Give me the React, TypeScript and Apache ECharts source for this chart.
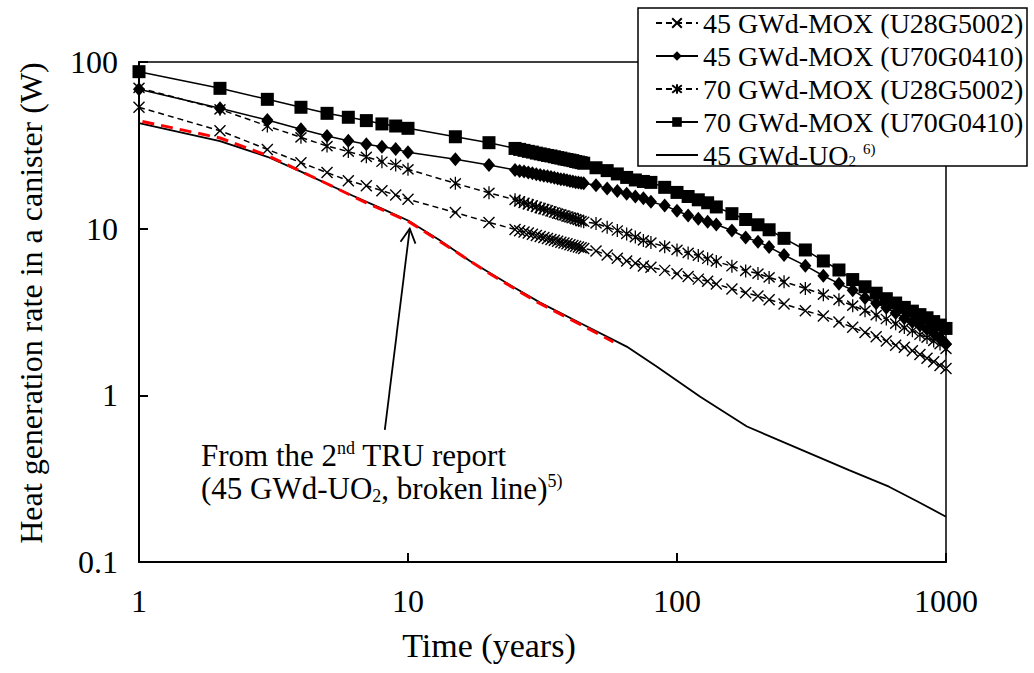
import React, { useEffect, useRef } from 'react';
import * as echarts from 'echarts';

// Time grid (years) shared by the four MOX calculations
const years = [
  1, 2, 3, 4, 5, 6, 7, 8, 9, 10, 15, 20,
  25, 26, 27, 28, 29, 30, 31, 32, 33, 34, 35, 36, 37, 38, 39, 40, 41, 42, 43, 44, 45,
  50, 55, 60, 65, 70, 75,
  80, 90, 100, 110, 120, 130, 140,
  160, 180, 200, 220,
  250,
  300, 350, 400, 450, 500, 550, 600, 650, 700, 750, 800, 850, 900, 950, 1000,
];

// 45 GWd-MOX (U28G5002)  (x markers, dashed)
const mox45U28 = [
  53.5, 38.7, 29.9, 24.9, 21.7, 19.4, 18.1, 16.9, 15.9, 15.0, 12.5, 10.9,
  9.9, 9.72, 9.56, 9.41, 9.26, 9.11, 8.97, 8.85, 8.73, 8.62, 8.51, 8.4, 8.3, 8.2, 8.11, 8.02, 7.93, 7.85, 7.77, 7.68, 7.6,
  7.35, 6.95, 6.65, 6.4, 6.2, 5.97,
  5.86, 5.62, 5.37, 5.17, 4.98, 4.83, 4.66,
  4.35, 4.13, 3.94, 3.75,
  3.53,
  3.22, 2.99, 2.75, 2.56, 2.38, 2.25, 2.12, 2.0, 1.94, 1.85, 1.76, 1.67, 1.59, 1.51, 1.45,
];

// 45 GWd-MOX (U70G0410)  (diamonds, solid)
const mox45U70 = [
  68.6, 52.8, 44.9, 39.5, 36.0, 33.7, 32.1, 31.0, 30.1, 28.7, 26.1, 24.1,
  22.5, 22.2, 22.0, 21.7, 21.5, 21.2, 21.0, 20.8, 20.6, 20.4, 20.2, 20.0, 19.8, 19.7, 19.5, 19.3, 19.2, 19.0, 18.9, 18.8, 18.7,
  18.2, 17.4, 16.8, 16.2, 15.6, 15.2,
  14.5, 13.75, 12.8, 12.0, 11.45, 11.0, 10.6,
  9.75, 8.85, 8.36, 7.75,
  6.95,
  6.0, 5.22, 4.68, 4.27, 3.84, 3.57, 3.35, 3.12, 2.9, 2.75, 2.62, 2.49, 2.36, 2.22, 2.03,
];

// 70 GWd-MOX (U28G5002)  (asterisks, dashed)
const mox70U28 = [
  70, 52, 41.3, 35.3, 31.3, 29.0, 27.0, 25.2, 24.1, 22.7, 18.7, 16.4,
  14.9, 14.6, 14.3, 14.0, 13.8, 13.5, 13.3, 13.1, 12.9, 12.7, 12.5, 12.3, 12.2, 12.0, 11.8, 11.7, 11.6, 11.4, 11.3, 11.1, 11.0,
  10.75, 10.2, 9.75, 9.3, 8.9, 8.5,
  8.25, 7.8, 7.45, 7.15, 6.9, 6.6, 6.36,
  5.95, 5.58, 5.38, 5.1,
  4.8,
  4.38, 4.02, 3.74, 3.45, 3.22, 3.03, 2.87, 2.69, 2.55, 2.44, 2.31, 2.22, 2.12, 2.03, 1.9,
];

// 70 GWd-MOX (U70G0410)  (squares, solid)
const mox70U70 = [
  87.5, 69.5, 59.7, 53.5, 49.2, 46.6, 44.5, 42.5, 41.3, 40.0, 35.6, 32.8,
  30.3, 29.9, 29.5, 29.1, 28.8, 28.4, 28.1, 27.8, 27.5, 27.3, 27.0, 26.7, 26.5, 26.2, 26.0, 25.8, 25.6, 25.3, 25.1, 24.9, 24.7,
  23.2, 22.3, 21.3, 20.3, 19.6, 19.2,
  18.95, 17.7, 16.5, 15.6, 14.9, 14.3, 13.5,
  12.3, 11.35, 10.55, 9.85,
  8.75,
  7.45, 6.4, 5.65, 4.95, 4.48, 4.1, 3.8, 3.58, 3.37, 3.2, 3.05, 2.92, 2.77, 2.64, 2.52,
];

// 45 GWd-UO2 (solid line, no markers)
const uo2Years = [1, 2, 3, 4, 6, 8, 10, 13, 17, 25, 31, 44, 65, 84, 122, 182, 310, 436, 614, 787, 1000];
const uo2Heat = [43, 33.5, 27, 22, 16.2, 13.2, 11.2, 8.6, 6.4, 4.4, 3.6, 2.7, 1.96, 1.49, 0.98, 0.65, 0.45, 0.356, 0.283, 0.23, 0.187];

// 2nd TRU report (red broken line)
const truYears = [1.03, 2, 3, 5, 7, 10, 15, 20, 30, 45, 58];
const truHeat = [44, 35, 27.5, 18.6, 14.3, 11.1, 7.3, 5.4, 3.65, 2.6, 2.09];

const legendNames = [
  '45 GWd-MOX (U28G5002)',
  '45 GWd-MOX (U70G0410)',
  '70 GWd-MOX (U28G5002)',
  '70 GWd-MOX (U70G0410)',
  '45 GWd-UO2',
];

const FONT = '"Liberation Serif", "Times New Roman", Times, serif';

const pair = (xs: number[], ys: number[]) => xs.map((x, i) => [x, ys[i]]);

export default function App() {
  const ref = useRef<HTMLDivElement>(null);

  useEffect(() => {
    const chart = echarts.init(ref.current!, null, { renderer: 'svg' });
    const crossPath = 'path://M0,0L10,10M10,0L0,10';
    const starPath = 'path://M0,0L10,10M10,0L0,10M5,-1.5L5,11.5';
    const markerStyle = { color: '#000', borderColor: '#000', borderWidth: 1.4 };
    const labelFmt = (v: number) => (v < 1 ? v.toFixed(1) : String(Math.round(v)));

    const option: any = {
      animation: false,
      backgroundColor: '#fff',
      grid: {
        left: 139,
        top: 62,
        width: 807,
        height: 500,
        show: true,
        borderColor: '#000',
        borderWidth: 1.5,
        containLabel: false,
      },
      xAxis: {
        type: 'log',
        logBase: 10,
        min: 1,
        max: 1000,
        name: 'Time (years)',
        nameLocation: 'middle',
        nameGap: 66,
        nameTextStyle: { fontFamily: FONT, fontSize: 34, color: '#000', padding: [0, 107, 0, 0] },
        axisLine: { show: true, lineStyle: { color: '#000', width: 2 } },
        axisTick: { show: true, inside: true, length: 9, lineStyle: { color: '#000', width: 2 } },
        minorTick: { show: false },
        splitLine: { show: false },
        axisLabel: { fontFamily: FONT, fontSize: 32, color: '#000', margin: 23, formatter: labelFmt },
      },
      yAxis: {
        type: 'log',
        logBase: 10,
        min: 0.1,
        max: 100,
        name: 'Heat generation rate in a canister (W)',
        nameLocation: 'middle',
        nameGap: 92,
        nameRotate: 90,
        nameTextStyle: { fontFamily: FONT, fontSize: 32, color: '#000', padding: [0, 0, 0, 18] },
        axisLine: { show: true, lineStyle: { color: '#000', width: 2 } },
        axisTick: { show: true, inside: true, length: 9, lineStyle: { color: '#000', width: 2 } },
        minorTick: { show: false },
        splitLine: { show: false },
        axisLabel: { fontFamily: FONT, fontSize: 32, color: '#000', margin: 21, formatter: labelFmt },
      },
      legend: {
        orient: 'vertical',
        left: 655,
        top: 9,
        padding: 0,
        itemWidth: 42,
        itemHeight: 12,
        itemGap: 5,
        z: 10,
        data: [
          legendNames[0],
          legendNames[1],
          legendNames[2],
          legendNames[3],
          { name: legendNames[4], icon: 'path://M0,0L42,0L42,1.8L0,1.8Z' },
        ],
        formatter: (name: string) => (name === '45 GWd-UO2' ? '45 GWd-UO{sub|2} {sup|6)}' : name),
        textStyle: {
          fontFamily: FONT,
          fontSize: 28,
          lineHeight: 27,
          color: '#000',
          rich: {
            sub: { fontFamily: FONT, fontSize: 15, color: '#000', verticalAlign: 'bottom', lineHeight: 27 },
            sup: { fontFamily: FONT, fontSize: 15, color: '#000', verticalAlign: 'top', lineHeight: 27 },
          },
        },
      },
      series: [
        {
          name: legendNames[0],
          type: 'line',
          data: pair(years, mox45U28),
          symbol: crossPath,
          symbolSize: 11,
          showSymbol: true,
          lineStyle: { color: '#000', width: 1.5, type: [6, 4] },
          itemStyle: markerStyle,
          emphasis: { disabled: true },
          z: 3,
        },
        {
          name: legendNames[1],
          type: 'line',
          data: pair(years, mox45U70),
          symbol: 'diamond',
          symbolSize: [12, 14],
          showSymbol: true,
          lineStyle: { color: '#000', width: 1.5 },
          itemStyle: { color: '#000', borderWidth: 0 },
          emphasis: { disabled: true },
          z: 3,
        },
        {
          name: legendNames[2],
          type: 'line',
          data: pair(years, mox70U28),
          symbol: starPath,
          symbolSize: [11, 13],
          showSymbol: true,
          lineStyle: { color: '#000', width: 1.5, type: [6, 4] },
          itemStyle: markerStyle,
          emphasis: { disabled: true },
          z: 3,
        },
        {
          name: legendNames[3],
          type: 'line',
          data: pair(years, mox70U70),
          symbol: 'rect',
          symbolSize: 13,
          showSymbol: true,
          lineStyle: { color: '#000', width: 1.5 },
          itemStyle: { color: '#000', borderWidth: 0 },
          emphasis: { disabled: true },
          z: 3,
        },
        {
          name: legendNames[4],
          type: 'line',
          data: pair(uo2Years, uo2Heat),
          symbol: 'none',
          lineStyle: { color: '#000', width: 1.8 },
          itemStyle: { color: '#000' },
          emphasis: { disabled: true },
          z: 3,
        },
        {
          name: '2nd TRU report (45 GWd-UO2)',
          type: 'line',
          data: pair(truYears, truHeat),
          symbol: 'none',
          lineStyle: { color: '#ff0000', width: 3, type: [12, 7] },
          itemStyle: { color: '#ff0000' },
          emphasis: { disabled: true },
          z: 4,
        },
      ],
    };
    chart.setOption(option);

    const tip = chart.convertToPixel({ gridIndex: 0 }, [10.15, 10.0]) as number[];
    const base = chart.convertToPixel({ gridIndex: 0 }, [8.2, 0.62]) as number[];
    const dx = tip[0] - base[0];
    const dy = tip[1] - base[1];
    const len = Math.sqrt(dx * dx + dy * dy);
    const ux = dx / len;
    const uy = dy / len;
    const headLen = 16;
    const ang = (28 * Math.PI) / 180;
    const wing = (s: number) => [
      tip[0] - headLen * (ux * Math.cos(ang) - s * uy * Math.sin(ang)),
      tip[1] - headLen * (uy * Math.cos(ang) + s * ux * Math.sin(ang)),
    ];

    chart.setOption({
      graphic: [
        {
          type: 'rect',
          z: 8,
          shape: { x: 638, y: 8, width: 389, height: 158 },
          style: { fill: '#fff', stroke: '#000', lineWidth: 1.5 },
        },
        {
          type: 'line',
          z: 8,
          shape: { x1: base[0], y1: base[1], x2: tip[0], y2: tip[1] },
          style: { stroke: '#000', lineWidth: 1.8 },
        },
        {
          type: 'polyline',
          z: 8,
          shape: { points: [wing(1), tip, wing(-1)] },
          style: { stroke: '#000', lineWidth: 1.8, fill: 'none' },
        },
        {
          type: 'text',
          z: 8,
          x: 201,
          y: 439,
          style: {
            text: 'From the 2{sup|nd} TRU report\n(45 GWd-UO{sub|2}, broken line){sup|5)}',
            fontFamily: FONT,
            fontSize: 31,
            lineHeight: 33,
            fill: '#000',
            verticalAlign: 'top',
            align: 'left',
            rich: {
              sup: { fontFamily: FONT, fontSize: 18, fill: '#000', verticalAlign: 'top', lineHeight: 33 },
              sub: { fontFamily: FONT, fontSize: 18, fill: '#000', verticalAlign: 'bottom', lineHeight: 33 },
            },
          },
        },
      ],
    });

    return () => chart.dispose();
  }, []);

  return (
    <div
      ref={ref}
      style={{ position: 'fixed', left: 0, top: 0, width: 1034, height: 673, background: '#fff' }}
    />
  );
}
